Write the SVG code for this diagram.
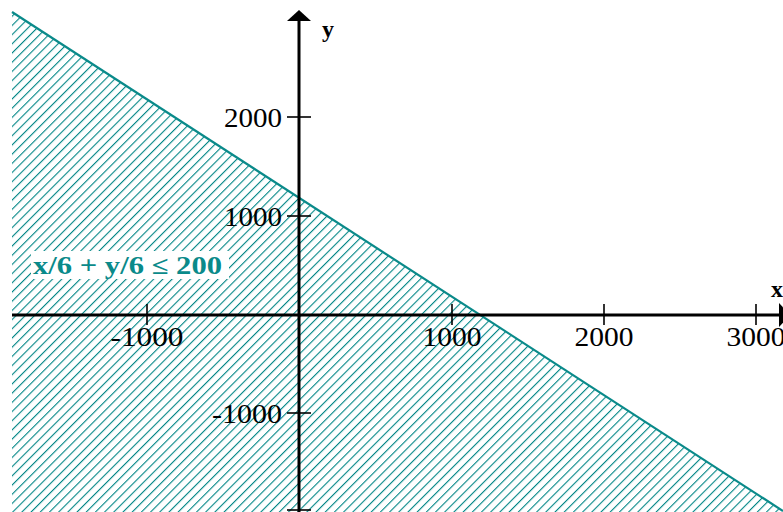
<svg xmlns="http://www.w3.org/2000/svg" width="783" height="512" viewBox="0 0 783 512">
  <style>
    .num { font-family: 'Liberation Serif', 'Times New Roman', serif; font-size: 28px; fill: #000; }
    .axlab { font-family: 'Liberation Serif', 'Times New Roman', serif; font-size: 24px; font-weight: bold; fill: #000; }
    .axis { stroke: #000; stroke-width: 3; fill: none; }
    .tick { stroke: #000; stroke-width: 1.6; fill: none; }
    .formula { font-family: 'Liberation Serif', 'Times New Roman', serif; font-size: 25px; font-weight: bold; fill: #0a8a8a; }
  </style>
  <defs>
    <pattern id="hatch" width="6.5" height="6.5" patternUnits="userSpaceOnUse" patternTransform="rotate(45)">
      <rect x="0" y="0" width="1.1" height="6.5" fill="#008585"/>
    </pattern>
  </defs>
  <rect width="783" height="512" fill="#fff"/>

  <g id="region">
    <polygon points="12,12 783,511 783,512 12,512" fill="url(#hatch)"/>
    <line x1="12" y1="12" x2="783" y2="511" stroke="#0a8a8a" stroke-width="2.2"/>
  </g>

  <g id="tick-labels">
    <text class="num" x="147" y="346" text-anchor="middle" textLength="73" lengthAdjust="spacingAndGlyphs">-1000</text>
    <text class="num" x="452" y="346" text-anchor="middle" textLength="59" lengthAdjust="spacingAndGlyphs">1000</text>
    <text class="num" x="604" y="346" text-anchor="middle" textLength="59" lengthAdjust="spacingAndGlyphs">2000</text>
    <text class="num" x="756" y="346" text-anchor="middle" textLength="59" lengthAdjust="spacingAndGlyphs">3000</text>
    <text class="num" x="224" y="127" textLength="58" lengthAdjust="spacingAndGlyphs">2000</text>
    <text class="num" x="224" y="226" textLength="58" lengthAdjust="spacingAndGlyphs">1000</text>
    <text class="num" x="212" y="423" textLength="70" lengthAdjust="spacingAndGlyphs">-1000</text>
  </g>

  <g id="label">
    <rect x="31" y="251" width="198" height="28" fill="#fff"/>
    <text class="formula" x="33" y="274" textLength="189" lengthAdjust="spacingAndGlyphs">x/6 + y/6 ≤ 200</text>
  </g>

  <g id="axes">
    <line class="axis" x1="12" y1="315" x2="780" y2="315"/>
    <polygon points="779,303 779,327 790,315" fill="#000"/>
    <line class="axis" x1="299" y1="512" x2="299" y2="20"/>
    <polygon points="287,21 311,21 299,10" fill="#000"/>
    <text class="axlab" x="771" y="297">x</text>
    <text class="axlab" x="322" y="37">y</text>
  </g>

  <g id="ticks">
    <line class="tick" x1="147" y1="304" x2="147" y2="325"/>
    <line class="tick" x1="452" y1="304" x2="452" y2="325"/>
    <line class="tick" x1="604" y1="304" x2="604" y2="325"/>
    <line class="tick" x1="756" y1="304" x2="756" y2="325"/>
    <line class="tick" x1="287" y1="117" x2="311" y2="117"/>
    <line class="tick" x1="287" y1="216" x2="311" y2="216"/>
    <line class="tick" x1="287" y1="413" x2="311" y2="413"/>
    <line class="tick" x1="287" y1="510" x2="311" y2="510"/>
  </g>
</svg>
